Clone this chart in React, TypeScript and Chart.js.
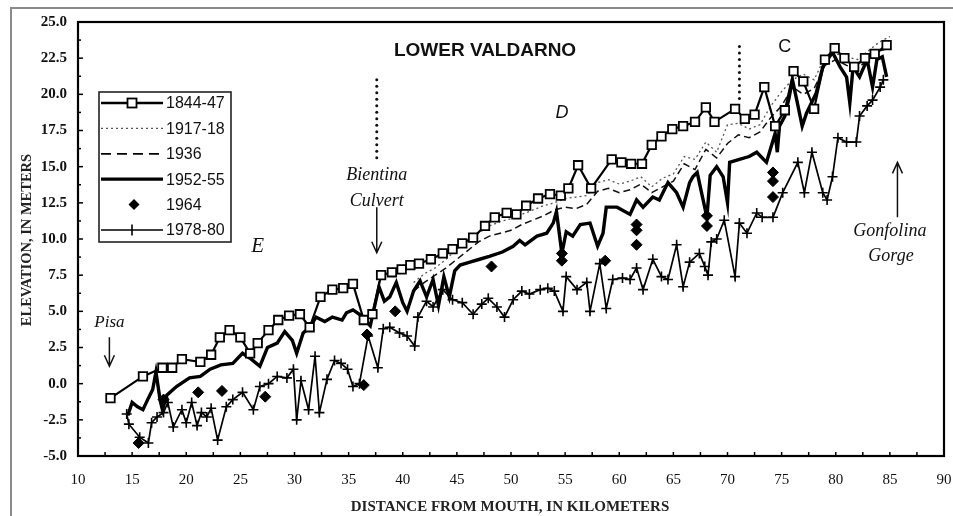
import React, { useEffect, useRef } from "react";
import { Chart, registerables } from "chart.js";

Chart.register(...registerables);

// ---- data ----
const km1844 = [13.0, 16.0, 17.8, 18.7, 19.6, 21.3, 22.3, 23.1, 24.0, 25.0, 25.9, 26.6, 27.6, 28.5, 29.5, 30.5, 31.4, 32.4, 33.5, 34.5, 35.4, 36.4, 37.2, 38.0, 39.0, 39.9, 40.7, 41.5, 42.6, 43.7, 44.6, 45.5, 46.5, 47.6, 48.5, 49.6, 50.5, 51.4, 52.5, 53.6, 54.6, 55.3, 56.2, 57.4, 59.3, 60.2, 61.1, 62.1, 63.0, 63.9, 64.9, 65.9, 67.0, 68.0, 68.8, 70.7, 71.6, 72.5, 73.4, 74.4, 75.3, 76.1, 77.0, 78.0, 79.0, 79.9, 80.8, 81.7, 82.7, 83.6, 84.7];
const elev1844 = [-1.0, 0.5, 1.1, 1.1, 1.7, 1.5, 2.0, 3.2, 3.7, 3.2, 2.1, 2.8, 3.7, 4.4, 4.7, 4.8, 3.9, 6.0, 6.5, 6.6, 6.9, 4.4, 4.8, 7.5, 7.7, 7.9, 8.2, 8.3, 8.6, 9.0, 9.3, 9.7, 10.1, 10.9, 11.5, 11.8, 11.7, 12.3, 12.8, 13.1, 13.0, 13.5, 15.1, 13.5, 15.5, 15.3, 15.2, 15.2, 16.5, 17.1, 17.6, 17.8, 18.1, 19.1, 18.1, 19.0, 18.3, 18.6, 20.5, 17.8, 18.9, 21.6, 20.9, 19.0, 22.4, 23.2, 22.5, 21.9, 22.5, 22.8, 23.4];

const km1917 = [41, 42, 43, 44, 45, 46, 47, 48, 49, 50, 51, 52, 53, 54, 55, 56, 57, 58, 59, 60, 61, 62, 63, 64, 65, 66, 67, 68, 69, 70, 71, 72, 73, 74, 75, 76, 77, 78, 79, 80, 81, 82, 83, 84, 85];
const elev1917 = [7.0, 7.6, 8.0, 8.6, 9.3, 9.8, 10.4, 10.9, 11.2, 11.4, 11.7, 12.0, 12.3, 12.5, 12.8, 12.9, 13.0, 13.9, 14.1, 13.8, 14.0, 14.3, 13.6, 14.2, 14.5, 15.7, 15.5, 16.7, 16.0, 17.9, 18.0, 17.6, 17.9, 19.2, 20.2, 21.0, 21.4, 21.0, 22.6, 22.8, 22.6, 22.4, 23.0, 23.6, 24.0];

const km1936 = [41, 42, 43, 44, 45, 46, 47, 48, 49, 50, 51, 52, 53, 54, 55, 56, 57, 58, 59, 60, 61, 62, 63, 64, 65, 66, 67, 68, 69, 70, 71, 72, 73, 74, 75, 76, 77, 78, 79, 80, 81, 82, 83, 84, 85];
const elev1936 = [6.4, 7.0, 7.5, 8.0, 8.6, 9.2, 9.8, 10.2, 10.4, 10.6, 11.0, 11.3, 11.6, 12.0, 12.2, 12.1, 12.4, 13.3, 13.5, 13.2, 13.4, 13.8, 13.2, 13.6, 14.0, 15.2, 14.8, 16.2, 15.6, 16.6, 17.2, 17.0, 17.4, 18.4, 19.2, 20.5, 20.0, 20.4, 22.0, 22.4, 22.0, 21.8, 22.4, 23.0, 23.2];

const km1952 = [14.6, 15.0, 15.5, 16.0, 16.5, 16.9, 17.2, 17.6, 17.8, 18.2, 19.1, 20.3, 21.3, 22.2, 23.2, 24.3, 25.2, 26.0, 26.8, 27.5, 28.4, 29.1, 29.8, 30.2, 30.8, 31.4, 32.0, 32.8, 33.5, 34.4, 34.8, 35.4, 36.0, 36.5, 37.0, 37.8, 38.3, 38.8, 39.4, 40.0, 40.4, 41.0, 41.6, 42.2, 42.8, 43.3, 43.8, 44.3, 44.8, 45.3, 46.2, 47.1, 48.0, 49.2, 50.2, 50.8, 51.3, 52.4, 53.3, 53.9, 54.2, 54.7, 55.1, 55.7, 56.4, 57.3, 58.0, 58.5, 58.8, 59.8, 61.0, 61.6, 62.2, 63.1, 63.7, 64.5, 65.3, 65.9, 66.5, 66.8, 67.2, 67.6, 68.1, 68.4, 69.0, 69.6, 70.0, 70.2, 71.1, 72.0, 72.7, 73.6, 74.4, 74.6, 74.8, 75.3, 75.7, 76.0, 76.4, 76.9, 77.3, 78.2, 78.8, 79.7, 80.4, 81.0, 81.3, 81.6, 82.2, 82.9, 83.4, 83.8, 84.3, 84.7];
const elev1952 = [-2.2, -1.3, -1.6, -1.8, -1.0, -0.4, 0.8, -1.2, -1.8, -0.8, -0.2, 0.4, 0.5, 1.0, 1.3, 1.4, 2.1, 1.7, 1.2, 2.5, 2.8, 3.6, 3.0, 2.1, 3.5, 3.9, 4.6, 4.3, 4.6, 4.4, 4.9, 5.1, 4.8, 4.4, 4.0, 6.7, 5.7, 6.0, 7.0, 5.6, 5.0, 6.4, 7.1, 6.0, 7.2, 5.4, 7.4, 6.0, 7.8, 8.2, 8.4, 8.6, 8.8, 9.1, 9.5, 9.9, 9.6, 10.2, 10.4, 11.1, 11.9, 9.0, 10.5, 10.2, 11.0, 11.1, 9.5, 10.4, 12.2, 12.2, 11.7, 12.7, 12.2, 12.9, 12.7, 13.9, 13.2, 12.2, 13.9, 14.3, 14.6, 13.2, 11.5, 14.4, 15.0, 14.3, 12.5, 15.3, 15.5, 15.7, 16.0, 15.3, 17.3, 16.0, 17.8, 18.5, 19.8, 21.0, 19.6, 17.8, 18.7, 20.1, 21.9, 22.9, 21.9, 21.2, 19.4, 21.9, 21.2, 22.4, 20.5, 22.4, 22.6, 21.2];

const km1964 = [15.6, 17.9, 21.1, 23.3, 27.3, 36.4, 36.7, 39.3, 48.2, 54.7, 54.7, 58.7, 61.6, 61.6, 61.6, 68.1, 68.1, 74.2, 74.2, 74.2];
const elev1964 = [-4.1, -1.1, -0.6, -0.5, -0.9, -0.1, 3.4, 5.0, 8.1, 9.0, 8.5, 8.5, 11.0, 10.6, 9.6, 11.6, 10.9, 14.6, 14.0, 12.9];

const km1978 = [14.5, 14.7, 15.7, 16.5, 16.8, 17.3, 17.9, 18.3, 18.8, 19.6, 20.0, 20.5, 21.0, 21.4, 21.9, 22.3, 22.9, 23.7, 24.3, 25.2, 26.2, 26.8, 27.6, 28.4, 29.3, 29.9, 30.2, 30.6, 31.3, 31.9, 32.3, 33.0, 33.7, 34.3, 34.9, 35.4, 36.0, 36.8, 37.7, 38.2, 38.8, 39.7, 40.4, 41.1, 41.4, 42.2, 42.8, 43.7, 44.6, 45.5, 46.5, 47.3, 47.9, 48.7, 49.4, 50.2, 51.0, 51.7, 52.7, 53.4, 54.0, 54.8, 55.1, 56.1, 57.0, 57.3, 58.2, 58.8, 59.4, 60.3, 61.0, 61.6, 62.2, 63.1, 63.9, 64.5, 65.3, 65.9, 66.5, 67.4, 67.9, 68.2, 68.5, 69.0, 69.7, 70.7, 71.1, 71.8, 72.7, 73.2, 74.2, 75.1, 76.5, 77.1, 77.8, 78.8, 79.2, 79.7, 80.2, 81.0, 81.9, 82.2, 82.9, 83.4, 84.1, 84.4];
const elev1978 = [-2.1, -2.8, -3.7, -4.1, -2.7, -2.3, -2.0, -1.3, -3.0, -1.8, -2.7, -1.3, -2.9, -2.0, -2.3, -1.7, -3.9, -1.6, -1.1, -0.6, -1.8, -0.2, 0.0, 0.5, 0.4, 1.0, -2.5, 0.2, -1.8, 1.9, -2.0, 0.3, 1.6, 1.4, 1.0, -0.2, 0.0, 3.3, 1.1, 3.8, 3.9, 3.5, 3.3, 2.6, 4.6, 5.7, 5.3, 6.5, 5.8, 5.6, 4.8, 5.5, 5.9, 5.3, 4.6, 5.8, 6.4, 6.2, 6.5, 6.6, 6.4, 5.0, 7.4, 6.5, 7.0, 5.0, 8.3, 5.2, 7.2, 7.3, 7.2, 8.0, 6.5, 8.6, 7.4, 7.2, 9.6, 6.7, 8.4, 9.0, 8.1, 7.5, 9.8, 10.0, 11.3, 7.4, 11.1, 10.4, 11.8, 11.5, 11.5, 13.2, 15.3, 13.2, 16.0, 13.2, 12.7, 14.3, 17.0, 16.7, 16.7, 18.5, 19.2, 19.6, 20.5, 21.0];

const seriesLabels = ["1844-47", "1917-18", "1936", "1952-55", "1964", "1978-80"];
const xTickValues = [10, 15, 20, 25, 30, 35, 40, 45, 50, 55, 60, 65, 70, 75, 80, 85, 90];
const yTickValues = [-5, -2.5, 0, 2.5, 5, 7.5, 10, 12.5, 15, 17.5, 20, 22.5, 25];

const chartTitle = "LOWER VALDARNO";
const xAxisTitle = "DISTANCE FROM MOUTH, IN KILOMETERS";
const yAxisTitle = "ELEVATION, IN METERS";

const FONT_SERIF = '"Liberation Serif", "Times New Roman", serif';
const FONT_SANS = '"Liberation Sans", Arial, sans-serif';

const pts = (xs: number[], ys: number[]) => xs.map((x, i) => ({ x, y: ys[i] }));

function arrow(ctx: CanvasRenderingContext2D, x: number, y1: number, y2: number) {
  const dir = y2 > y1 ? 1 : -1;
  ctx.beginPath();
  ctx.moveTo(x, y1);
  ctx.lineTo(x, y2);
  ctx.moveTo(x - 5, y2 - dir * 11);
  ctx.lineTo(x, y2);
  ctx.lineTo(x + 5, y2 - dir * 11);
  ctx.stroke();
}

function dottedVertical(ctx: CanvasRenderingContext2D, x: number, y1: number, y2: number) {
  ctx.save();
  ctx.fillStyle = "#111";
  for (let y = y1; y <= y2; y += 6.5) {
    ctx.beginPath();
    ctx.arc(x, y, 1.5, 0, Math.PI * 2);
    ctx.fill();
  }
  ctx.restore();
}

const overlayPlugin = {
  id: "overlay",
  beforeDatasetsDraw(chart: any) {
    const { ctx, chartArea } = chart;
    const { left, right, top, bottom } = chartArea;
    const xs = chart.scales.x;
    const ys = chart.scales.y;
    ctx.save();
    ctx.strokeStyle = "#000";
    ctx.lineWidth = 2.2;
    ctx.strokeRect(left, top, right - left, bottom - top);
    ctx.lineWidth = 1.5;
    for (let v = -5; v <= 25.001; v += 1.25) {
      const y = ys.getPixelForValue(v);
      const major = Math.abs(v / 2.5 - Math.round(v / 2.5)) < 1e-6;
      ctx.beginPath();
      ctx.moveTo(left, y);
      ctx.lineTo(left + (major ? 5 : 3), y);
      ctx.stroke();
    }
    for (let v = 10; v <= 90.001; v += 2.5) {
      const x = xs.getPixelForValue(v);
      ctx.beginPath();
      ctx.moveTo(x, bottom);
      ctx.lineTo(x, bottom - 4);
      ctx.stroke();
    }
    ctx.restore();
  },
  afterDraw(chart: any) {
    const { ctx, chartArea } = chart;
    const xs = chart.scales.x;
    const ys = chart.scales.y;
    const px = (v: number) => xs.getPixelForValue(v);
    const py = (v: number) => ys.getPixelForValue(v);
    ctx.save();
    ctx.fillStyle = "#111";
    ctx.strokeStyle = "#111";
    ctx.textAlign = "center";
    ctx.textBaseline = "middle";

    ctx.font = `bold 19px ${FONT_SANS}`;
    ctx.fillText(chartTitle, px(47.6), py(23.0));

    ctx.font = `italic 18px ${FONT_SANS}`;
    ctx.fillText("D", px(54.7), py(18.7));
    ctx.font = `18px ${FONT_SANS}`;
    ctx.fillText("C", px(75.3), py(23.3));
    ctx.font = `italic 21px ${FONT_SERIF}`;
    ctx.fillText("E", px(26.6), py(9.5));

    ctx.font = `italic 17px ${FONT_SERIF}`;
    ctx.fillText("Pisa", px(12.9), py(4.25));
    ctx.lineWidth = 1.5;
    arrow(ctx, px(12.9), py(3.2), py(1.2));

    ctx.font = `italic 18px ${FONT_SERIF}`;
    ctx.fillText("Bientina", px(37.6), py(14.4));
    ctx.fillText("Culvert", px(37.6), py(12.6));
    arrow(ctx, px(37.6), py(12.2), py(9.05));
    dottedVertical(ctx, px(37.6), py(21.0), py(15.3));

    dottedVertical(ctx, px(71.1), py(23.3), py(19.6));

    ctx.fillText("Gonfolina", px(85.0), py(10.55));
    ctx.fillText("Gorge", px(85.1), py(8.8));
    arrow(ctx, px(85.7), py(11.5), py(15.3));

    // axis titles
    ctx.fillStyle = "#222";
    ctx.font = `bold 15px ${FONT_SERIF}`;
    ctx.fillText(xAxisTitle, 510, 507);
    ctx.save();
    ctx.translate(27, 240);
    ctx.rotate(-Math.PI / 2);
    ctx.font = `bold 14.5px ${FONT_SERIF}`;
    ctx.fillText(yAxisTitle, 0, 0);
    ctx.restore();

    // legend
    const lx = chartArea.left + 21;
    const ly = chartArea.top + 70;
    const lw = 132;
    const lh = 150;
    ctx.fillStyle = "#fff";
    ctx.fillRect(lx, ly, lw, lh);
    ctx.strokeStyle = "#222";
    ctx.lineWidth = 1.6;
    ctx.strokeRect(lx, ly, lw, lh);
    const x1 = lx + 2;
    const x2 = lx + 64;
    const xm = (x1 + x2) / 2;
    ctx.textAlign = "left";
    ctx.font = `16px ${FONT_SANS}`;
    seriesLabels.forEach((label, i) => {
      const y = ly + 11 + i * 25.4;
      ctx.save();
      ctx.strokeStyle = "#000";
      ctx.fillStyle = "#000";
      if (i === 0) {
        ctx.lineWidth = 2.6;
        ctx.beginPath(); ctx.moveTo(x1, y); ctx.lineTo(x2, y); ctx.stroke();
        ctx.fillStyle = "#fff";
        ctx.lineWidth = 1.8;
        ctx.fillRect(xm - 4.5, y - 4.5, 9, 9);
        ctx.strokeRect(xm - 4.5, y - 4.5, 9, 9);
      } else if (i === 1) {
        ctx.lineWidth = 1.3;
        ctx.strokeStyle = "#555";
        ctx.setLineDash([2, 3]);
        ctx.beginPath(); ctx.moveTo(x1, y); ctx.lineTo(x2, y); ctx.stroke();
      } else if (i === 2) {
        ctx.lineWidth = 1.8;
        ctx.setLineDash([10, 6]);
        ctx.beginPath(); ctx.moveTo(x1, y); ctx.lineTo(x2, y); ctx.stroke();
      } else if (i === 3) {
        ctx.lineWidth = 3.2;
        ctx.beginPath(); ctx.moveTo(x1, y); ctx.lineTo(x2, y); ctx.stroke();
      } else if (i === 4) {
        ctx.beginPath();
        ctx.moveTo(xm + 2, y - 5.5); ctx.lineTo(xm + 7.5, y); ctx.lineTo(xm + 2, y + 5.5); ctx.lineTo(xm - 3.5, y);
        ctx.closePath(); ctx.fill();
      } else {
        ctx.lineWidth = 1.6;
        ctx.beginPath(); ctx.moveTo(x1, y); ctx.lineTo(x2, y); ctx.stroke();
        ctx.beginPath(); ctx.moveTo(xm, y - 5.5); ctx.lineTo(xm, y + 5.5); ctx.stroke();
      }
      ctx.restore();
      ctx.fillStyle = "#111";
      ctx.fillText(label, x2 + 3, y + 1);
    });
    ctx.restore();
  },
};

export default function App() {
  const ref = useRef<HTMLCanvasElement>(null);

  useEffect(() => {
    if (!ref.current) return;
    const chart = new Chart(ref.current, {
      type: "scatter",
      data: {
        datasets: [
          {
            label: seriesLabels[0],
            data: pts(km1844, elev1844),
            showLine: true,
            borderColor: "#000",
            borderWidth: 2.2,
            pointStyle: "rect",
            pointRadius: 6,
            pointBackgroundColor: "#fff",
            pointBorderColor: "#000",
            pointBorderWidth: 1.8,
            order: 0,
          },
          {
            label: seriesLabels[1],
            data: pts(km1917, elev1917),
            showLine: true,
            borderColor: "#555",
            borderWidth: 1.3,
            borderDash: [2, 3],
            pointRadius: 0,
            order: 5,
          },
          {
            label: seriesLabels[2],
            data: pts(km1936, elev1936),
            showLine: true,
            borderColor: "#111",
            borderWidth: 1.5,
            borderDash: [7, 4],
            pointRadius: 0,
            order: 4,
          },
          {
            label: seriesLabels[3],
            data: pts(km1952, elev1952),
            showLine: true,
            borderColor: "#000",
            borderWidth: 3.4,
            pointRadius: 0,
            order: 3,
          },
          {
            label: seriesLabels[4],
            data: pts(km1964, elev1964),
            showLine: false,
            pointStyle: "rectRot",
            pointRadius: 5.5,
            pointBackgroundColor: "#000",
            pointBorderColor: "#000",
            pointBorderWidth: 1,
            order: 1,
          },
          {
            label: seriesLabels[5],
            data: pts(km1978, elev1978),
            showLine: true,
            borderColor: "#000",
            borderWidth: 1.7,
            pointStyle: "cross",
            pointRadius: 5,
            pointBorderColor: "#000",
            pointBorderWidth: 1.6,
            order: 2,
          },
        ],
      },
      options: {
        animation: false,
        responsive: false,
        events: [],
        layout: { autoPadding: false, padding: { top: 22, right: 9, left: 0, bottom: 0 } },
        elements: { line: { tension: 0 } },
        plugins: {
          legend: { display: false },
          tooltip: { enabled: false },
          title: { display: false },
        },
        scales: {
          x: {
            type: "linear",
            min: 10,
            max: 90,
            afterBuildTicks: (s: any) => {
              s.ticks = xTickValues.map((v) => ({ value: v }));
            },
            afterFit: (s: any) => {
              s.height = 60;
              s.paddingLeft = 0;
              s.paddingRight = 0;
            },
            ticks: {
              color: "#111",
              font: { family: FONT_SERIF, size: 15 },
              padding: 15,
              maxRotation: 0,
              autoSkip: false,
            },
            grid: { display: false, drawTicks: false },
            border: { display: false },
          },
          y: {
            type: "linear",
            min: -5,
            max: 25,
            afterBuildTicks: (s: any) => {
              s.ticks = yTickValues.map((v) => ({ value: v }));
            },
            afterFit: (s: any) => {
              s.width = 78;
              s.paddingTop = 0;
              s.paddingBottom = 0;
            },
            ticks: {
              color: "#111",
              font: { family: FONT_SERIF, size: 15, weight: "bold" },
              padding: 11,
              autoSkip: false,
              callback: (v: any) => Number(v).toFixed(1),
            },
            grid: { display: false, drawTicks: false },
            border: { display: false },
          },
        },
      },
      plugins: [overlayPlugin],
    });
    return () => chart.destroy();
  }, []);

  return (
    <div style={{ position: "fixed", left: 0, top: 0, width: 953, height: 516, background: "#fff" }}>
      <div
        style={{
          position: "absolute",
          left: 10,
          top: 7,
          right: 0,
          bottom: 0,
          borderTop: "2px solid #8a8a8a",
          borderLeft: "2px solid #8a8a8a",
        }}
      />
      <canvas
        ref={ref}
        width={953}
        height={516}
        style={{ position: "absolute", left: 0, top: 0, width: 953, height: 516 }}
      />
    </div>
  );
}
